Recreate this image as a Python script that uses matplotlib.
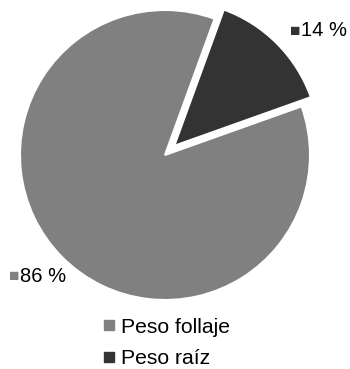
import matplotlib.pyplot as plt
from matplotlib.lines import Line2D

plt.rcParams['font.family'] = ['Liberation Sans', 'DejaVu Sans']

categorias = ['Peso raíz', 'Peso follaje']
valores = [14, 86]
colores = ['#333333', '#808080']
etiquetas = ['14 %', '86 %']

fig = plt.figure(figsize=(3.5, 3.69), dpi=100)
ax = fig.add_axes([20/350, 1 - 300/369, 290/350, 290/369])

ax.pie(valores, colors=colores, startangle=70, counterclock=False,
       explode=[0.09, 0], wedgeprops=dict(edgecolor='white', linewidth=1.5))
ax.set_xlim(-1, 1)
ax.set_ylim(-1, 1)
ax.set_aspect('equal')
ax.axis('off')

# etiquetas de porcentaje
pos = [(290/350, 1 - 31/369), (9/350, 1 - 276/369)]
for (x, y), t, c in zip(pos, etiquetas, colores):
    fig.text(x, y, '■', color=c, fontsize=12.5, va='center', ha='left')
    fig.text(x + 11/350, y, t, color='black', fontsize=14.5, va='center', ha='left')

# leyenda
handles = [Line2D([], [], marker='s', linestyle='none', color=colores[1], markersize=6.5),
           Line2D([], [], marker='s', linestyle='none', color=colores[0], markersize=6.5)]
fig.legend(handles, [categorias[1], categorias[0]], loc='center left',
           bbox_to_anchor=(84/350, 1 - 343/369), frameon=False, fontsize=15.2,
           handlelength=0.6, handletextpad=0.25, labelspacing=0.6)

fig.savefig('out.png', dpi=100)
